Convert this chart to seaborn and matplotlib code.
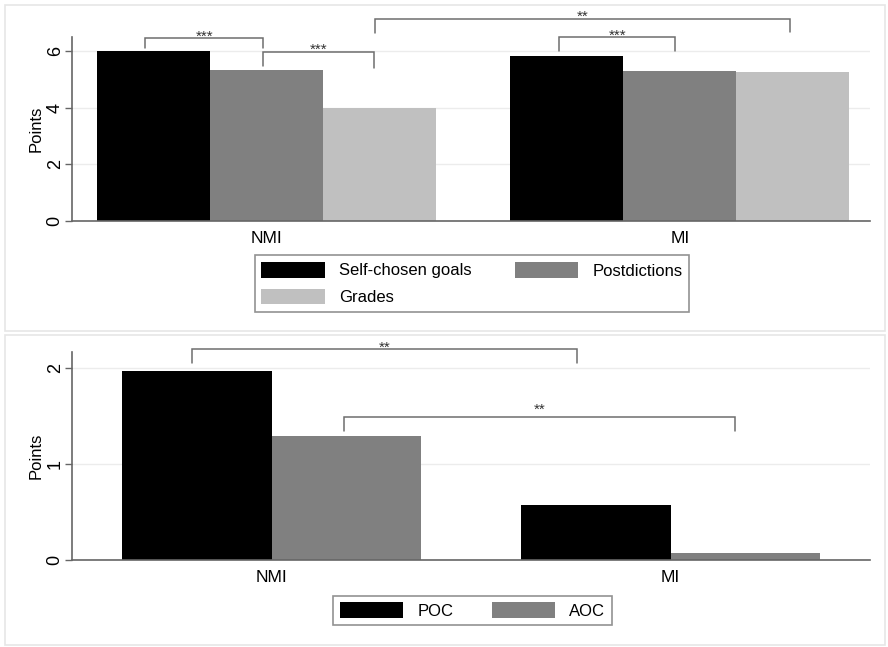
import matplotlib
matplotlib.use("Agg")
import matplotlib.pyplot as plt
import seaborn as sns
import pandas as pd
from matplotlib.patches import Patch, Rectangle

# ---- data ----
groups = ["NMI", "MI"]
top_series = ["Self-chosen goals", "Postdictions", "Grades"]
top_values = {
    "Self-chosen goals": [6.0, 5.83],
    "Postdictions": [5.33, 5.30],
    "Grades": [4.0, 5.25],
}
bottom_series = ["POC", "AOC"]
bottom_values = {
    "POC": [1.97, 0.57],
    "AOC": [1.29, 0.07],
}
top_colors = ["#000000", "#808080", "#c0c0c0"]
bottom_colors = ["#000000", "#808080"]
top_yticks = [0, 2, 4, 6]
bottom_yticks = [0, 1, 2]

# brackets: (x1, x2, y_top, y_leg_left, y_leg_right, label, label offset in px)
top_brackets = [
    (-0.293, -0.007, 6.47, 6.11, 6.11, "***", 6),
    (-0.007, 0.261, 5.97, 5.48, 5.41, "***", 7),
    (0.264, 1.266, 7.14, 6.64, 6.68, "**", 7),
    (0.709, 0.988, 6.50, 6.00, 6.00, "***", 6),
]
bottom_brackets = [
    (-0.20, 0.765, 2.198, 2.06, 2.06, "**", 7),
    (0.1825, 1.1625, 1.49, 1.35, 1.35, "**", 12),
]

sns.set_theme(style="white")
plt.rcParams["font.family"] = ["Liberation Sans", "DejaVu Sans"]
plt.rcParams["text.color"] = "black"
plt.rcParams["xtick.color"] = "black"
plt.rcParams["ytick.color"] = "black"
plt.rcParams["axes.labelcolor"] = "black"

W, H = 888, 647
fig = plt.figure(figsize=(W / 100, H / 100), dpi=100)
fig.patch.set_facecolor("white")

def px_axes(left, top, right, bottom):
    return fig.add_axes([left / W, 1 - bottom / H, (right - left) / W, (bottom - top) / H])

# panel frames
for (x0, y0, x1, y1) in [(5, 5, 885, 331), (5, 335, 885, 645)]:
    fig.patches.append(Rectangle((x0 / W, 1 - y1 / H), (x1 - x0) / W, (y1 - y0) / H,
                                 transform=fig.transFigure, fill=False,
                                 edgecolor="#e6e6e6", lw=1.2))

def make_df(series, values):
    rows = []
    for s in series:
        for g, v in zip(groups, values[s]):
            rows.append({"group": g, "series": s, "value": v})
    return pd.DataFrame(rows)

def style_axes(ax, ylim, yticks, xlim):
    ax.set_ylim(*ylim)
    ax.set_xlim(*xlim)
    ax.set_yticks(yticks)
    ax.set_yticklabels([str(t) for t in yticks], rotation=90, va="center", fontsize=13)
    ax.tick_params(axis="y", length=5, width=1, color="#666666", pad=1, left=True)
    ax.tick_params(axis="x", length=0, pad=7, labelsize=12.5)
    for s in ["top", "right"]:
        ax.spines[s].set_visible(False)
    for s in ["left", "bottom"]:
        ax.spines[s].set_color("#666666")
        ax.spines[s].set_linewidth(1.2)
    ax.yaxis.grid(True, color="#ececec", lw=1)
    ax.set_axisbelow(True)
    ax.set_xlabel("")
    ax.set_ylabel("Points", fontsize=12, labelpad=2)
    if ax.get_legend() is not None:
        ax.get_legend().remove()

def draw_brackets(ax, brackets):
    for x1, x2, yt, yl, yr, lab, off in brackets:
        ax.plot([x1, x1, x2, x2], [yl, yt, yt, yr], color="#6e6e6e", lw=1.1,
                clip_on=False, solid_joinstyle="miter")
        ax.annotate(lab, ((x1 + x2) / 2, yt), xytext=(0, (off - 9) * 0.72),
                    textcoords="offset points",
                    ha="center", va="baseline", fontsize=11, color="#333333",
                    annotation_clip=False)

# ---- top panel ----
ax1 = px_axes(72, 37, 870, 221)
df1 = make_df(top_series, top_values)
sns.barplot(data=df1, x="group", y="value", hue="series", order=groups,
            hue_order=top_series, palette=top_colors, width=0.82, gap=0,
            saturation=1, linewidth=0, ax=ax1, errorbar=None)
style_axes(ax1, (0, 6.5), top_yticks, (-0.47, 1.46))
draw_brackets(ax1, top_brackets)

# ---- bottom panel ----
ax2 = px_axes(72, 352, 870, 560)
df2 = make_df(bottom_series, bottom_values)
sns.barplot(data=df2, x="group", y="value", hue="series", order=groups,
            hue_order=bottom_series, palette=bottom_colors, width=0.75, gap=0,
            saturation=1, linewidth=0, ax=ax2, errorbar=None)
style_axes(ax2, (0, 2.17), bottom_yticks, (-0.5, 1.5))
draw_brackets(ax2, bottom_brackets)

# ---- legends ----
def legend(handles_order, colors_map, center_px, colsp):
    handles = [Patch(facecolor=colors_map[n], edgecolor="none", label=n) for n in handles_order]
    leg = fig.legend(handles=handles, loc="center",
                     bbox_to_anchor=(center_px[0] / W, 1 - center_px[1] / H),
                     ncol=2, fontsize=12, frameon=True, fancybox=False,
                     handlelength=3.8, handleheight=1.05, handletextpad=0.85,
                     columnspacing=colsp, labelspacing=0.6, borderpad=0.4,
                     borderaxespad=0)
    leg.get_frame().set_edgecolor("#777777")
    leg.get_frame().set_linewidth(1.2)
    return leg

legend(["Self-chosen goals", "Grades", "Postdictions"],
       dict(zip(top_series, top_colors)), (472, 283.5), 2.6)
legend(["POC", "AOC"], dict(zip(bottom_series, bottom_colors)), (472.5, 610.5), 2.3)

fig.savefig("out.png", dpi=100, facecolor="white")
